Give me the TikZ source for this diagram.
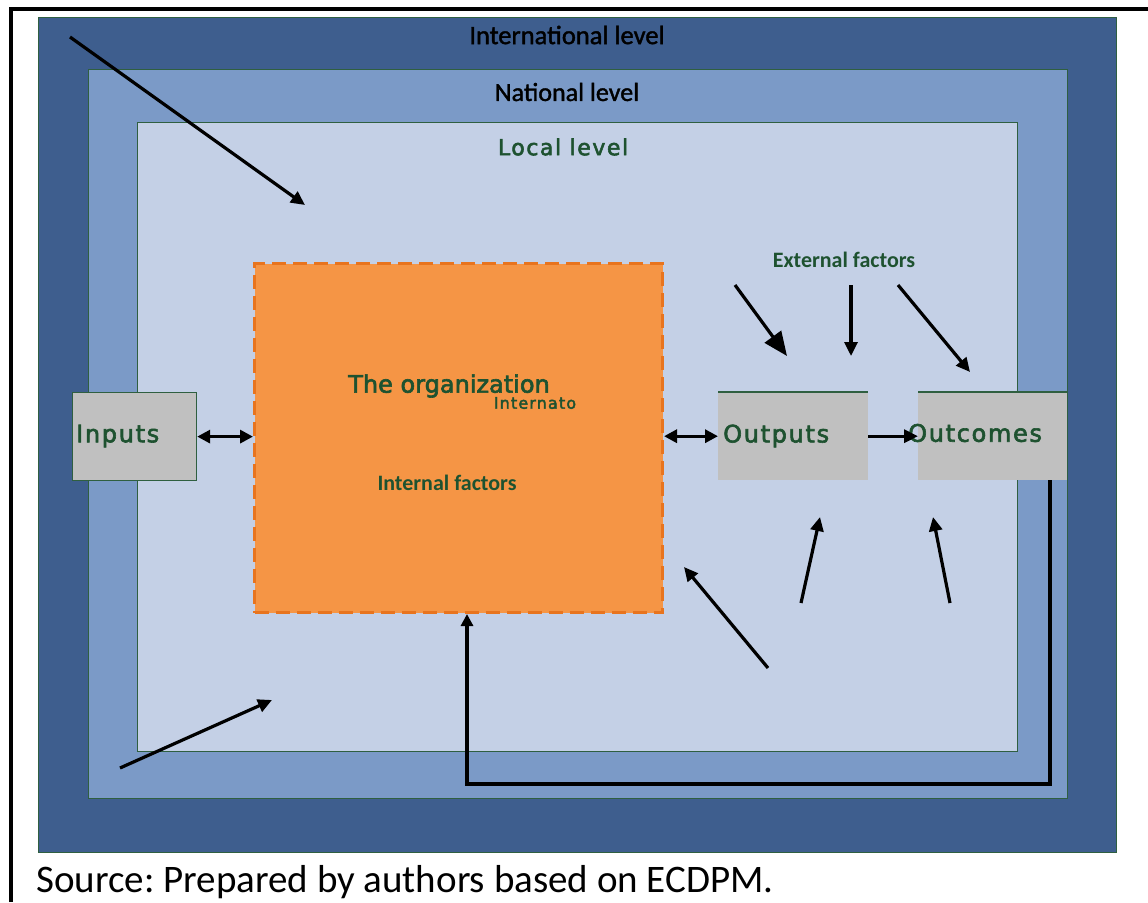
\documentclass[tikz,border=0pt]{standalone}
\usepackage{fontspec}
\setmainfont{Carlito}
\newfontfamily\spaced[LetterSpace=7,FakeBold=2.5]{DejaVu Sans}
\newfontfamily\plain[FakeBold=2.5]{DejaVu Sans}
\newfontfamily\levelfont[FakeBold=1.5]{Carlito}
\usetikzlibrary{arrows.meta}
\definecolor{intblue}{HTML}{3E5E8E}
\definecolor{natblue}{HTML}{7B9AC7}
\definecolor{locblue}{HTML}{C4D0E6}
\definecolor{orgfill}{HTML}{F59545}
\definecolor{orgedge}{HTML}{E8741E}
\definecolor{boxgray}{HTML}{C0C0C0}
\definecolor{txtgreen}{HTML}{1E5230}
\definecolor{edgegreen}{HTML}{2F5F40}

\begin{document}
\begin{tikzpicture}[x=1pt,y=-1pt,
  arr/.style={-{Triangle[length=14pt,width=13pt]},line width=3.2pt,black},
  darr/.style={{Triangle[length=13pt,width=13pt]}-{Triangle[length=13pt,width=13pt]},line width=3.2pt,black},
  levelbox/.style={draw=edgegreen,line width=1pt},
  graybox/.style={fill=boxgray,inner sep=0pt,minimum height=88pt,anchor=north west},
  boxtext/.style={text=txtgreen,font=\spaced\fontsize{24}{28}\selectfont,inner sep=0pt},
  factor/.style={text=txtgreen,font=\bfseries\fontsize{22}{26}\selectfont,inner sep=0pt}]
  \useasboundingbox (0,0) rectangle (1148,902);
  \fill[white] (0,0) rectangle (1148,902);
  % frame
  \draw[line width=4pt] (11,902) -- (11,9) -- (1148,9);

  % levels
  \filldraw[levelbox,fill=intblue] (38,17) rectangle (1116,852);
  \filldraw[levelbox,fill=natblue] (88,69) rectangle (1067,798);
  \filldraw[levelbox,fill=locblue] (137,122) rectangle (1017,751);
  \node[font=\levelfont\fontsize{26.5}{30}\selectfont,inner sep=0pt] (intl) at (567,35) {International level};
  \node[font=\levelfont\fontsize{26}{30}\selectfont,inner sep=0pt] (natl) at (567,92) {National level};
  \node[boxtext,font=\spaced\fontsize{22}{26}\selectfont] (locl) at (563,147) {Local level};

  % organization
  \node[fill=orgfill,draw=orgedge,line width=3pt,dash pattern=on 14pt off 7pt,
        minimum width=408pt,minimum height=349pt,anchor=north west] (org) at (253,262) {};
  \node[text=txtgreen,font=\plain\fontsize{24}{28}\selectfont,inner sep=0pt] (orgname) at (449,386) {The organization};
  \node[text=txtgreen,font=\spaced\fontsize{16}{18}\selectfont,inner sep=0pt] (orgnote) at (535,403) {Internato};
  \node[factor] (intfac) at (447,483) {Internal factors};

  % inputs, outputs, outcomes
  \node[graybox,draw=edgegreen,line width=1.2pt,minimum width=124pt] (inputs) at (72,392) {};
  \node[graybox,minimum width=150pt] (outputs) at (718,392) {};
  \node[graybox,minimum width=149pt] (outcomes) at (918,392) {};
  \draw[edgegreen,line width=1.2pt] (outputs.north west) -- (outputs.north east);
  \draw[edgegreen,line width=1.2pt] (outcomes.north west) -- (outcomes.north east);
  \node[boxtext,anchor=west] (intxt) at (76,436) {Inputs};
  \node[boxtext,anchor=west] (outtxt) at (723,436) {Outputs};
  \node[boxtext,anchor=west] (outctxt) at (908,433) {Outcomes};
  \node[factor] (extfac) at (844,260) {External factors};

  % links between boxes
  \draw[darr] (inputs.east) -- (inputs.east -| org.west);
  \draw[darr] (org.east |- outputs.west) -- (outputs.west);
  \draw[arr] (outputs.east) -- (outcomes.west);

  % outside influences
  \coordinate (tl0) at (70,37);   \coordinate (tl1) at (305,205);
  \coordinate (bl0) at (120,768); \coordinate (bl1) at (272,700);
  \coordinate (ea0) at (735,285); \coordinate (ea1) at (787,356);
  \coordinate (eb0) at (851,285); \coordinate (eb1) at (851,356);
  \coordinate (ec0) at (898,285); \coordinate (ec1) at (970,372);
  \coordinate (ua0) at (801,603); \coordinate (ua1) at (820,517);
  \coordinate (ub0) at (950,603); \coordinate (ub1) at (933,517);
  \coordinate (oa0) at (768,668); \coordinate (oa1) at (684,567);
  \draw[arr] (tl0) -- (tl1);
  \draw[arr] (bl0) -- (bl1);
  \draw[arr,-{Triangle[length=24pt,width=20pt]}] (ea0) -- (ea1);
  \draw[arr] (eb0) -- (eb1);
  \draw[arr] (ec0) -- (ec1);
  \draw[arr] (ua0) -- (ua1);
  \draw[arr] (ub0) -- (ub1);
  \draw[arr] (oa0) -- (oa1);

  % feedback loop
  \coordinate (fb0) at (1050,480);
  \coordinate (fb1) at (467,784);
  \draw[arr,-{Triangle[length=12pt,width=12pt]}] (fb0) |- (fb1) -- (fb1 |- org.south);

  \node[font=\fontsize{39}{42}\selectfont,anchor=west,inner sep=0pt] (source) at (36,882) {\frenchspacing Source: Prepared by authors based on ECDPM.};
\end{tikzpicture}
\end{document}
